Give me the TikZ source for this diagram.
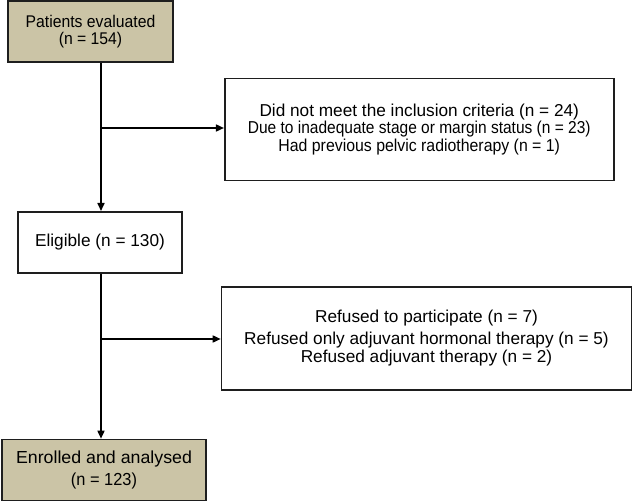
\documentclass[tikz,border=0pt]{standalone}
\usepackage{fontspec}
\usepackage{graphicx}
\setmainfont{Liberation Sans}
\usetikzlibrary{arrows.meta,calc}
\definecolor{tan}{RGB}{203,196,166}
\definecolor{edge}{RGB}{30,30,30}
\newcommand{\sx}[2]{\scalebox{#1}[1]{#2}}
\begin{document}
\begin{tikzpicture}[x=1bp,y=1bp,
  box/.style={draw=edge,line width=1.6bp,inner sep=0pt,align=center},
  arr/.style={line width=1.6bp,-{Triangle[length=8bp,width=7bp]}}]
\useasboundingbox (0,0) rectangle (633,-502);
\node[box,fill=tan,minimum width=165bp,minimum height=61bp,
  font=\fontsize{17}{17.5}\selectfont] (b1) at (90.5,-31.5)
  {\sx{0.93}{Patients evaluated}\\\sx{0.93}{(n = 154)}};
\node[box,minimum width=164bp,minimum height=61bp,
  font=\fontsize{17.3}{18}\selectfont] (b2) at (100,-242.3)
  {Eligible (n = 130)};
\node[box,minimum width=389bp,minimum height=102bp,
  font=\fontsize{17.3}{17.7}\selectfont] (b3) at (419.25,-129.5)
  {Did not meet the inclusion criteria (n = 24)\\
   \sx{0.90}{Due to inadequate stage or margin status (n = 23)}\\
   \sx{0.92}{Had previous pelvic radiotherapy (n = 1)}};
\node[box,minimum width=410bp,minimum height=103bp,
  font=\fontsize{17.3}{18.5}\selectfont] (b4) at (426.5,-338.25)
  {Refused to participate (n = 7)\\[3.5bp]
   Refused only adjuvant hormonal therapy (n = 5)\\
   Refused adjuvant therapy (n = 2)};
\node[box,fill=tan,minimum width=204bp,minimum height=61bp,
  font=\fontsize{17.5}{23}\selectfont] (b5) at (104,-470)
  {\sx{1.02}{Enrolled and analysed}\\\sx{0.94}{(n = 123)}};
\coordinate (spine) at (101,0);
\coordinate (j1) at (101,-128);
\coordinate (j2) at (101,-339);
\draw[arr] (b1.south -| spine) -- (b2.north -| spine);
\draw[arr] (j1) -- (j1 -| b3.west);
\draw[arr] (b2.south -| spine) -- (b5.north -| spine);
\draw[arr] (j2) -- (j2 -| b4.west);
\end{tikzpicture}
\end{document}
